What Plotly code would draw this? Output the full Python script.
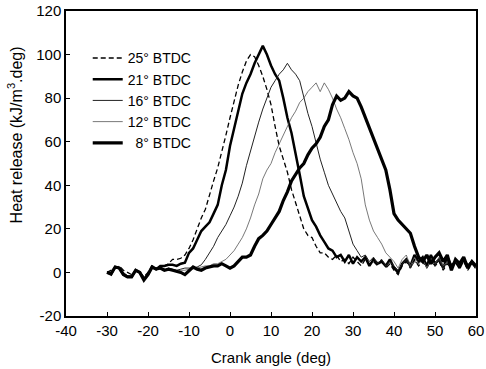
import plotly.graph_objects as go

# crank angle grid (deg) shared by all series
angle = list(range(-30, 61))

# Heat release (kJ/m3.deg) per injection timing
hr_25 = [0, 1, 2, 3, 1, 0, -1, 1, 0, -2, 0, 3, 2, 2, 3, 4, 6, 6, 6.5, 8,
         11, 15, 20, 25, 29, 36, 42, 48, 55, 63, 71, 79, 86, 92, 97, 100, 99, 95, 90, 84,
         77, 67, 58, 52, 46, 38, 32, 26, 20, 17, 16, 12, 9, 9, 7,
         6, 8, 5, 6, 4, 7, 5, 3, 6, 4, 5, 3, 6, 2, 4, 1, -1, 3, 5, 2,
         6, 3, 5, 2, 6, 3, 5, 1, 4, 2, 6, 3, 5, 1, 4, 2]
hr_21 = [0, -1, 2.5, 2, -1, -2, -2, 1, 0, -3, -1, 2.5, 1.5, 3, 3, 3.5, 3.5, 3, 4, 4.5,
         9, 11, 15, 19, 21, 23, 27, 31, 40, 47, 58, 66, 75, 82, 87, 91, 96, 100, 104, 100,
         95, 91, 88, 80, 71, 64, 55, 45, 35, 29, 24, 21, 17, 14, 11,
         10, 7, 8, 5, 8, 4, 7, 5, 7, 3, 6, 4, 5, 3, 6, 2, 0, 4, 6, 3,
         8, 5, 7, 3, 8, 4, 6, 2, 7, 3, 5, 2, 6, 3, 5, 2]
hr_16 = [0, 0, 2, 2.5, 0, -1.5, -2, 0.5, 0, -3, -1, 2, 2, 1.5, 1, 2, 1.5, 1, 1.5, 2,
         2, 2, 2.5, 3.5, 6, 9, 12, 16, 19, 22, 26, 30, 35, 41, 49, 56, 62, 69, 75, 80,
         85, 88, 91, 93, 96, 93, 91, 88, 80, 73, 67, 59, 52, 46, 40,
         36, 32, 28, 25, 19, 13, 10, 7, 8, 5, 7, 4, 6, 3, 5, 3, 1, 4, 6, 2,
         5, 4, 6, 2, 5, 3, 6, 2, 5, 2, 5, 3, 6, 2, 4, 3]
hr_12 = [0, -0.5, 2, 2, -0.5, -2, -1.5, 0.5, 0, -3, -1, 2, 1.5, 1.5, 1, 1.5, 1, 0.5, 1, 1,
         1.5, 2, 2, 2.5, 3, 3, 4, 4, 5, 6, 8, 10, 13, 16, 20, 25, 31, 36, 43, 47,
         50, 55, 59, 63, 67, 71, 74, 78, 80, 83, 85, 87, 83, 87, 84,
         80, 75, 71, 66, 61, 55, 50, 43, 31, 24, 19, 16, 13, 9, 7, 5, 2, 6, 8, 3,
         7, 4, 6, 2, 6, 4, 7, 3, 5, 1, 5, 4, 6, 3, 5, 2]
hr_8 = [0, -0.5, 2.5, 2, -1, -2, -2, 1, 0, -3.5, -1, 2.5, 1.5, 2, 1, 1.5, 1, 0.5, 0, -1,
        1, 2.5, 1.5, 1, 2, 2.5, 3, 3, 4, 3, 2, 3, 5, 7, 7, 8, 12, 15.5, 17, 19,
        22, 25, 28, 33, 37, 42, 45, 48, 50, 54, 57, 59, 62, 67, 70,
        77, 81, 79, 80, 83, 81, 80, 76, 71, 67, 62, 57, 52, 47, 38, 27, 24, 22, 20, 18,
        12, 7, 5, 8, 4, 7, 9, 5, 8, 1, 6, 4, 7, 2, 5, 3]

labels = ["25\u00b0 BTDC", "21\u00b0 BTDC", "16\u00b0 BTDC", "12\u00b0 BTDC", "\u20078\u00b0 BTDC"]
x_ticks = [-40, -30, -20, -10, 0, 10, 20, 30, 40, 50, 60]
x_ticktext = ["-40", "-30", "-20", "-10", "0", "10", "20", "30", "40", "50", "60"]
y_ticks = [-20, 0, 20, 40, 60, 80, 100, 120]
y_ticktext = ["-20", "0", "20", "40", "60", "80", "100", "120"]

series = [hr_25, hr_21, hr_16, hr_12, hr_8]
styles = [dict(color="black", width=1.3, dash="5px,3px"),
          dict(color="black", width=2.5),
          dict(color="#222222", width=1),
          dict(color="#555555", width=0.8),
          dict(color="black", width=3.2)]

fig = go.Figure()
for lab, ys, st in zip(labels, series, styles):
    fig.add_trace(go.Scatter(x=angle, y=ys, mode="lines", name=lab, line=st,
                             cliponaxis=False))

fam = "Liberation Sans, Arial, sans-serif"
tickfont = dict(family=fam, size=15, color="black")
legfont = dict(family=fam, size=14, color="black")
axis_common = dict(showline=True, linecolor="black", linewidth=1.5, mirror=True,
                   ticks="inside", ticklen=4, tickcolor="black", showgrid=False,
                   zeroline=False, tickfont=tickfont, automargin=False)
fig.update_layout(
    width=486, height=369,
    margin=dict(l=66, r=10, t=11, b=53),
    paper_bgcolor="white", plot_bgcolor="white",
    showlegend=True,
    legend=dict(x=0.053, y=0.897, xanchor="left", yanchor="top",
                bgcolor="rgba(0,0,0,0)", font=legfont, tracegroupgap=0,
                itemwidth=30),
    xaxis=dict(range=[-40, 60], tickvals=x_ticks, ticktext=x_ticktext, **axis_common),
    yaxis=dict(range=[-20, 120], tickvals=y_ticks, ticktext=y_ticktext, **axis_common),
    annotations=[
        dict(text="Crank angle (deg)", xref="paper", yref="paper", x=0.5, y=-0.1377,
             xanchor="center", yanchor="middle", showarrow=False,
             font=dict(family=fam, size=15, color="black")),
        dict(text="Heat release (kJ/m<sup>3</sup>.deg)", xref="paper", yref="paper",
             x=-0.1238, y=0.593, xanchor="center", yanchor="middle", textangle=-90,
             showarrow=False, font=dict(family=fam, size=16, color="black")),
    ],
)
fig.write_html("out.html")
